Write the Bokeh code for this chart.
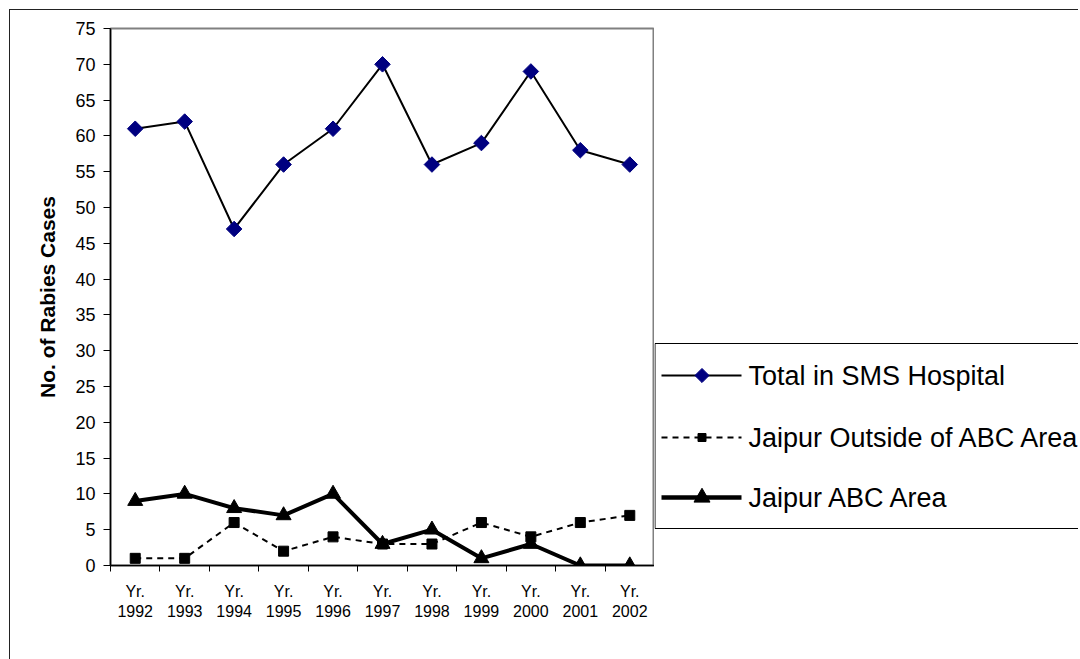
import math
from bokeh.plotting import figure
from bokeh.layouts import row
from bokeh.models import FixedTicker, ColumnDataSource, Range1d
from bokeh.core.properties import value
from bokeh.embed import file_html
from bokeh.resources import INLINE

# Annual rabies cases, 1992-2002
years = ["1992", "1993", "1994", "1995", "1996", "1997",
         "1998", "1999", "2000", "2001", "2002"]
total_sms = [61, 62, 47, 56, 61, 70, 56, 59, 69, 58, 56]
outside_abc = [1, 1, 6, 2, 4, 3, 3, 6, 4, 6, 7]
abc_area = [9, 10, 8, 7, 10, 3, 5, 1, 3, 0, 0]
series_names = ["Total in SMS Hospital", "Jaipur Outside of ABC Area", "Jaipur ABC Area"]
y_ticks = list(range(0, 80, 5))

FONT = "Liberation Sans"
NAVY = "#000080"
DASH = "6 5"

# each year sits in the middle of its own slot on a numeric axis
xpos = [i + 0.5 for i in range(len(years))]
slot_edges = list(range(len(years) + 1))
src = ColumnDataSource(dict(x=xpos, total=total_sms, outside=outside_abc, abc=abc_area))

BORDER_TOP, BORDER_BOTTOM = 18, 94
FRAME_H = 537
p = figure(frame_width=544, frame_height=FRAME_H, output_backend="svg", toolbar_location=None,
           x_range=Range1d(0, len(years)), y_range=Range1d(0, 75),
           min_border_left=100, min_border_right=0,
           min_border_top=BORDER_TOP, min_border_bottom=BORDER_BOTTOM)

p.background_fill_color = "white"
p.border_fill_color = "white"
p.outline_line_color = "#808080"
p.outline_line_width = 2
p.xgrid.visible = False
p.ygrid.visible = False

# x axis: year labels at slot centres, tick marks on slot edges
p.xaxis.ticker = FixedTicker(ticks=xpos, minor_ticks=slot_edges)
p.xaxis.major_label_overrides = {x: "Yr.\n" + y for x, y in zip(xpos, years)}
p.xaxis.major_tick_out = 0
p.xaxis.major_tick_in = 0
p.xaxis.minor_tick_out = 6
p.xaxis.minor_tick_in = 0
p.xaxis.minor_tick_line_color = "black"
p.xaxis.major_label_standoff = 11
p.xaxis.major_label_text_font = FONT
p.xaxis.major_label_text_font_size = "16px"
p.xaxis.major_label_text_color = "black"
p.xaxis.axis_line_color = "black"
p.xaxis.axis_line_width = 1.5

# y axis
p.yaxis.ticker = FixedTicker(ticks=y_ticks)
p.yaxis.minor_tick_line_color = None
p.yaxis.major_tick_out = 7
p.yaxis.major_tick_in = 0
p.yaxis.major_tick_line_color = "black"
p.yaxis.major_label_standoff = 8
p.yaxis.major_label_text_font = FONT
p.yaxis.major_label_text_font_size = "18px"
p.yaxis.major_label_text_color = "black"
p.yaxis.axis_line_color = "black"
p.yaxis.axis_line_width = 1.5
p.yaxis.axis_label = "No. of Rabies Cases"
p.yaxis.axis_label_text_font = FONT
p.yaxis.axis_label_text_font_style = "bold"
p.yaxis.axis_label_text_font_size = "21px"
p.yaxis.axis_label_text_color = "black"
p.yaxis.axis_label_standoff = 13

# series
p.line("x", "total", source=src, line_color="black", line_width=2)
p.scatter("x", "total", source=src, marker="square", size=11, angle=math.pi / 4,
          fill_color=NAVY, line_color=NAVY)

p.line("x", "outside", source=src, line_color="black", line_width=2, line_dash=DASH)
p.scatter("x", "outside", source=src, marker="square", size=10,
          fill_color="black", line_color="black")

p.line("x", "abc", source=src, line_color="black", line_width=4)
p.scatter("x", "abc", source=src, marker="triangle", size=15,
          fill_color="black", line_color="black")

# legend panel to the right of the plot; its frame lines up with the plot frame,
# and its y range runs in pixels from the page top (y grows downward)
LG_W = 424
page_top = 10
frame_top = page_top + BORDER_TOP
lg = figure(width=LG_W, frame_height=FRAME_H, output_backend="svg", toolbar_location=None,
            x_range=Range1d(0, LG_W), y_range=Range1d(frame_top + FRAME_H, frame_top),
            x_axis_location=None, y_axis_location=None,
            min_border_left=0, min_border_right=0,
            min_border_top=BORDER_TOP, min_border_bottom=BORDER_BOTTOM,
            outline_line_color=None)
lg.xgrid.visible = False
lg.ygrid.visible = False
lg.background_fill_color = "white"
lg.border_fill_color = "white"

box_top, box_bottom = 343, 528
lg.quad(left=[0.5], right=[LG_W + 20], top=[box_top], bottom=[box_bottom],
        fill_color="white", line_color="black", line_width=1)

rows_y = [375, 437, 497]
seg_x0, seg_x1, mark_x, text_x = 7, 87, 47.5, 94
line_styles = [dict(line_width=2), dict(line_width=2, line_dash=DASH), dict(line_width=4.5)]
for y, style in zip(rows_y, line_styles):
    lg.segment(x0=[seg_x0], y0=[y], x1=[seg_x1], y1=[y], line_color="black", **style)

lg.scatter([mark_x], [rows_y[0]], marker="square", size=10, angle=math.pi / 4,
           fill_color=NAVY, line_color=NAVY)
lg.scatter([mark_x], [rows_y[1]], marker="square", size=8,
           fill_color="black", line_color="black")
lg.scatter([mark_x], [rows_y[2]], marker="triangle", size=16,
           fill_color="black", line_color="black")

lg.text(x=[text_x] * 3, y=rows_y, text=series_names, text_baseline="middle",
        text_font=value(FONT), text_font_size="27px", text_color="black")

layout = row(p, lg, spacing=0)
# thin chart border on the top and left of the drawing
layout.styles = {"border-left": "1px solid #222", "border-top": "1px solid #222",
                 "margin-left": "9px", "margin-top": "9px"}

open("out.html", "w").write(file_html(layout, INLINE))
